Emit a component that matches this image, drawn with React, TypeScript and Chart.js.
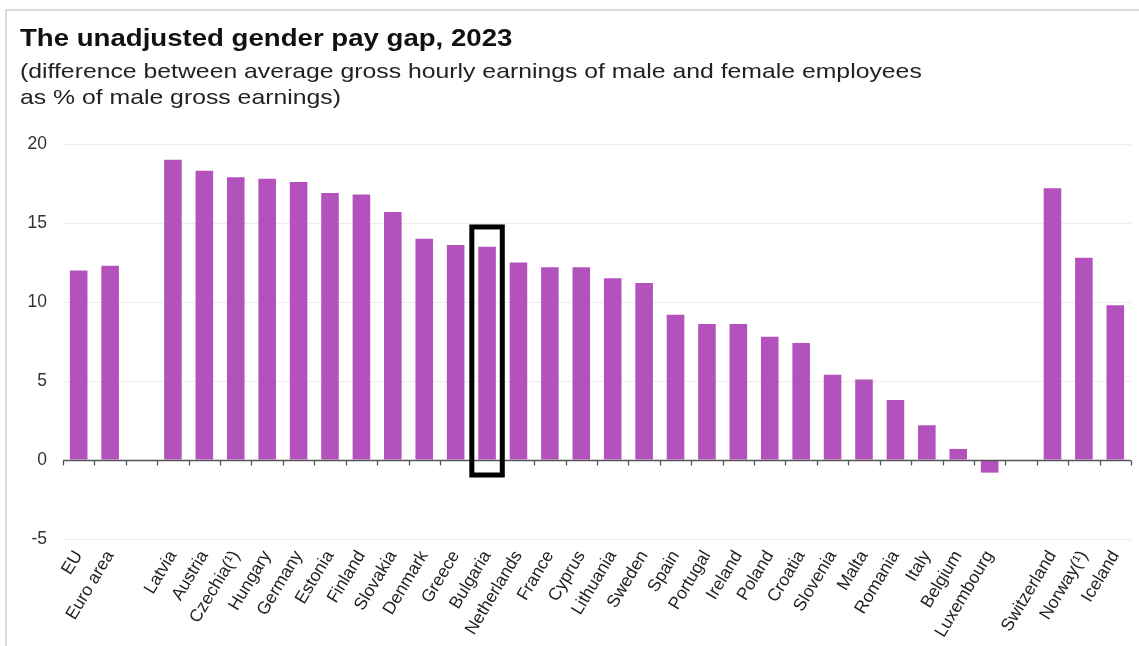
import React, { useEffect, useRef } from "react";
import { Chart, registerables } from "chart.js";

Chart.register(...registerables);

const titleText = "The unadjusted gender pay gap, 2023";
const subtitleLines = [
  "(difference between average gross hourly earnings of male and female employees",
  "as % of male gross earnings)",
];

const categories = [
  "EU", "Euro area", "", "Latvia", "Austria", "Czechia(¹)", "Hungary", "Germany",
  "Estonia", "Finland", "Slovakia", "Denmark", "Greece", "Bulgaria", "Netherlands",
  "France", "Cyprus", "Lithuania", "Sweden", "Spain", "Portugal", "Ireland", "Poland",
  "Croatia", "Slovenia", "Malta", "Romania", "Italy", "Belgium", "Luxembourg", "",
  "Switzerland", "Norway(¹)", "Iceland",
];

const payGap: (number | null)[] = [
  12.0, 12.3, null, 19.0, 18.3, 17.9, 17.8, 17.6,
  16.9, 16.8, 15.7, 14.0, 13.6, 13.5, 12.5,
  12.2, 12.2, 11.5, 11.2, 9.2, 8.6, 8.6, 7.8,
  7.4, 5.4, 5.1, 3.8, 2.2, 0.7, -0.8, null,
  17.2, 12.8, 9.8,
];

const yTicks = [-5, 0, 5, 10, 15, 20];

const highlightCategory = "Bulgaria";
const highlightRange = [-0.95, 14.75];

const BAR_COLOR = "#b452bd";

const zeroAxisPlugin = {
  id: "zeroAxis",
  afterDatasetsDraw(chart: any) {
    const { ctx, scales } = chart;
    const x = scales.x;
    const y = scales.y;
    const y0 = Math.round(y.getPixelForValue(0)) + 0.5;
    ctx.save();
    ctx.strokeStyle = "#555";
    ctx.lineWidth = 1.3;
    ctx.beginPath();
    ctx.moveTo(x.left, y0);
    ctx.lineTo(x.right, y0);
    const n = categories.length;
    const step = (x.right - x.left) / n;
    for (let i = 0; i <= n; i++) {
      const px = Math.round(x.left + i * step) + 0.5;
      ctx.moveTo(px, y0);
      ctx.lineTo(px, y0 + 5);
    }
    ctx.stroke();

    // highlight box
    const idx = categories.indexOf(highlightCategory);
    if (idx >= 0) {
      const cx = x.getPixelForValue(idx);
      const w = step * 0.97;
      const top = y.getPixelForValue(highlightRange[1]);
      const bottom = y.getPixelForValue(highlightRange[0]);
      ctx.strokeStyle = "#000";
      ctx.lineWidth = 5;
      ctx.strokeRect(cx - w / 2, top, w, bottom - top);
    }
    ctx.restore();
  },
};

export default function App() {
  const canvasRef = useRef<HTMLCanvasElement | null>(null);

  useEffect(() => {
    if (!canvasRef.current) return;
    const chart = new Chart(canvasRef.current, {
      type: "bar",
      data: {
        labels: categories,
        datasets: [
          {
            data: payGap as any,
            backgroundColor: BAR_COLOR,
            borderWidth: 0,
            barPercentage: 0.56,
            categoryPercentage: 1,
          },
        ],
      },
      options: {
        responsive: false,
        animation: false,
        devicePixelRatio: 1,
        layout: { padding: { top: 144, right: 8, left: 0, bottom: 0 } },
        plugins: {
          legend: { display: false },
          tooltip: { enabled: false },
          title: { display: false },
        },
        scales: {
          x: {
            grid: { display: false },
            border: { display: false },
            ticks: {
              autoSkip: false,
              minRotation: 59,
              maxRotation: 59,
              padding: 0,
              color: "#222",
              font: { family: "'Liberation Sans', Arial, sans-serif", size: 17.5 },
            },
            afterFit(scale: any) {
              scale.height = 107;
            },
          },
          y: {
            min: -5,
            max: 20,
            afterBuildTicks(scale: any) {
              scale.ticks = yTicks.map((v) => ({ value: v }));
            },
            grid: {
              drawTicks: false,
              color: (c: any) => (c.tick && c.tick.value === 0 ? "rgba(0,0,0,0)" : "#ececec"),
              lineWidth: 1,
            },
            border: { display: false },
            ticks: {
              padding: 16,
              color: "#333",
              font: { family: "'Liberation Sans', Arial, sans-serif", size: 17.5 },
            },
            afterFit(scale: any) {
              scale.width = 63;
            },
          },
        },
      },
      plugins: [zeroAxisPlugin],
    });
    return () => chart.destroy();
  }, []);

  const font = "'Liberation Sans', Arial, Helvetica, sans-serif";

  return (
    <div
      style={{
        position: "absolute",
        left: 0,
        top: 0,
        width: 1139,
        height: 646,
        background: "#fff",
        overflow: "hidden",
      }}
    >
      <div
        style={{
          position: "absolute",
          left: 5,
          top: 9,
          width: 1134,
          height: 637,
          borderTop: "2px solid #dcdcdc",
          borderLeft: "2px solid #dcdcdc",
        }}
      />
      <canvas
        ref={canvasRef}
        width={1139}
        height={646}
        style={{ position: "absolute", left: 0, top: 0, width: 1139, height: 646 }}
      />
      <div
        style={{
          position: "absolute",
          left: 20,
          top: 24,
          fontFamily: font,
          fontWeight: "bold",
          fontSize: 23,
          lineHeight: "28px",
          color: "#111",
          whiteSpace: "nowrap",
          transform: "scaleX(1.2)",
          transformOrigin: "left top",
        }}
      >
        {titleText}
      </div>
      <div
        style={{
          position: "absolute",
          left: 20,
          top: 58,
          fontFamily: font,
          fontSize: 21,
          lineHeight: "26px",
          color: "#222",
          whiteSpace: "nowrap",
          transform: "scaleX(1.18)",
          transformOrigin: "left top",
        }}
      >
        {subtitleLines.map((l, i) => (
          <div key={i}>{l}</div>
        ))}
      </div>
    </div>
  );
}
